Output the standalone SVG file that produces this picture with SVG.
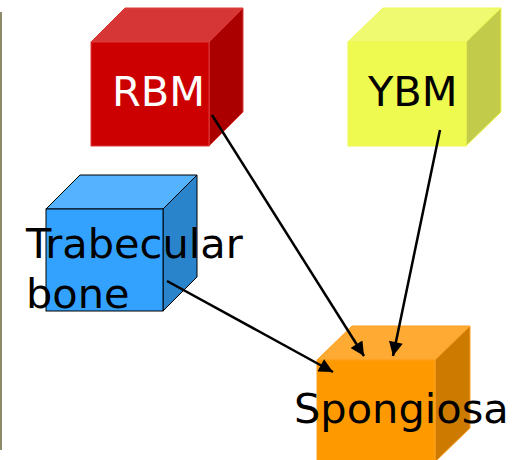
<svg xmlns="http://www.w3.org/2000/svg" width="520" height="460" viewBox="0 0 520 460">
  <defs>
    <marker id="arrow" viewBox="0 0 10 10" refX="10" refY="5" markerWidth="17" markerHeight="14" markerUnits="userSpaceOnUse" orient="auto">
      <path d="M0,0 L10,5 L0,10 z" fill="#000"/>
    </marker>
    <style>
      .label { font-family: "DejaVu Sans", "Liberation Sans", sans-serif; font-size: 41.5px; }
      .conn { stroke: #000; stroke-width: 2.5; fill: none; marker-end: url(#arrow); }
    </style>
  </defs>
  <rect width="520" height="460" fill="#fff"/>
  <!-- narrow strip along the left edge -->
  <rect x="0" y="12" width="2" height="438" fill="#8c8a68"/>

  <g id="rbm">
    <polygon points="91,42 125,8 243,8 209,42" fill="#d63636" stroke="#e03a3a" stroke-width="1"/>
    <polygon points="209,42 243,8 243,112 209,146" fill="#aa0000" stroke="#e03a3a" stroke-width="1"/>
    <rect x="91" y="42" width="118" height="104" fill="#cc0000" stroke="#e03a3a" stroke-width="1"/>
    <text class="label" x="112" y="106" fill="#fff">RBM</text>
  </g>

  <g id="ybm">
    <polygon points="348,42 383,8 501,8 466,42" fill="#f0fa70" stroke="#eef850" stroke-width="1"/>
    <polygon points="466,42 501,8 501,112 466,146" fill="#c3cc4a" stroke="#eef850" stroke-width="1"/>
    <rect x="348" y="42" width="118" height="104" fill="#eefa4f" stroke="#eef850" stroke-width="1"/>
    <text class="label" x="368" y="106" fill="#000">YBM</text>
  </g>

  <g id="trabecular">
    <polygon points="46,209 80,175 197,175 163,209" fill="#55b2ff" stroke="#000" stroke-width="1"/>
    <polygon points="163,209 197,175 197,277 163,311" fill="#2a84cc" stroke="#000" stroke-width="1"/>
    <rect x="46" y="209" width="117" height="102" fill="#33a2ff" stroke="#000" stroke-width="1"/>
    <text class="label" x="26" y="258" fill="#000">Trabecular</text>
    <text class="label" x="26" y="308" fill="#000">bone</text>
  </g>

  <g id="spongiosa">
    <polygon points="317,360 352,326 470,326 435,360" fill="#ffaa33" stroke="#ffa020" stroke-width="1"/>
    <polygon points="435,360 470,326 470,428 435,462" fill="#cc7a00" stroke="#ffa020" stroke-width="1"/>
    <rect x="317" y="360" width="118" height="104" fill="#ff9900" stroke="#ffa020" stroke-width="1"/>
    <text class="label" x="294" y="423" fill="#000">Spongiosa</text>
  </g>

  <g id="connectors">
    <line class="conn" x1="212" y1="115" x2="364" y2="356"/>
    <line class="conn" x1="440" y1="130" x2="393" y2="356"/>
    <line class="conn" x1="167" y1="281" x2="333" y2="372"/>
  </g>
</svg>
